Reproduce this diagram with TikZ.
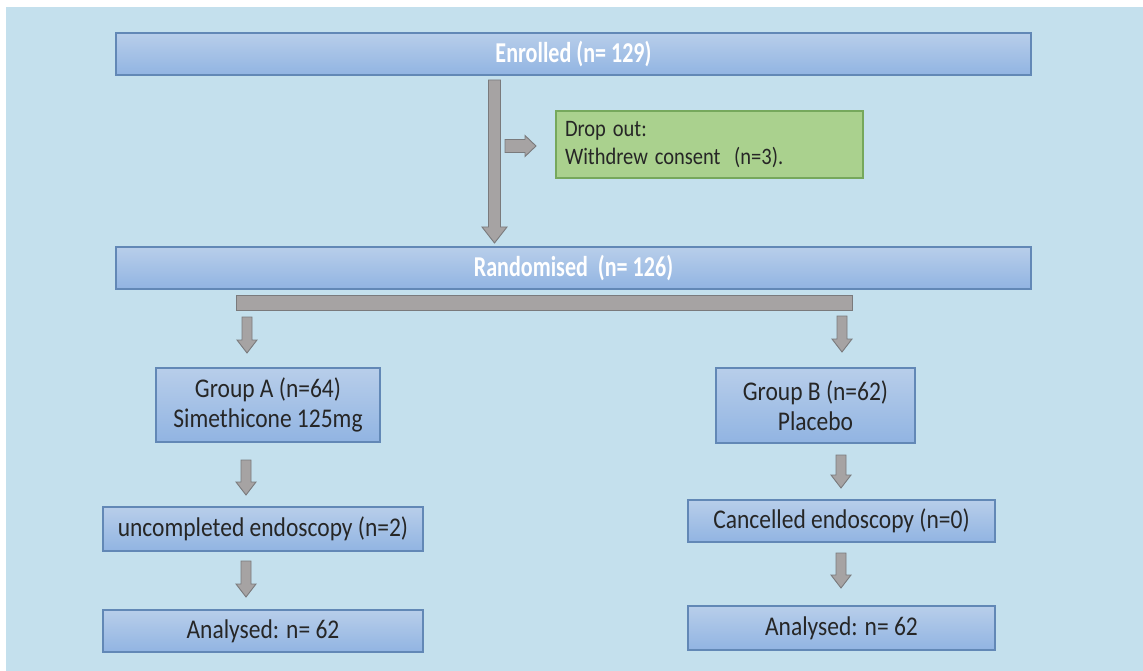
\documentclass[tikz,border=0pt]{standalone}
\usepackage{fontspec}
\setmainfont{Carlito}
\usetikzlibrary{calc}
\definecolor{bgblue}{RGB}{196,224,237}
\definecolor{boxtop}{RGB}{184,206,234}
\definecolor{boxbot}{RGB}{145,180,226}
\definecolor{boxline}{RGB}{98,136,182}
\definecolor{arrfill}{RGB}{166,163,163}
\definecolor{arrline}{RGB}{122,122,124}
\definecolor{grfill}{RGB}{170,209,142}
\definecolor{grline}{RGB}{118,168,92}
\definecolor{txt}{RGB}{38,38,38}
\newcommand\myDownArrow[6]{%
  \draw[garrow] (#1-#4,#2) -- (#1-#4,#3-#6) -- (#1-#5,#3-#6) -- (#1,#3)
    -- (#1+#5,#3-#6) -- (#1+#4,#3-#6) -- (#1+#4,#2) -- cycle;}
\newcommand\vst[1]{\scalebox{1}[1.15]{#1}}
\newcommand\hst[1]{\scalebox{0.96}[1.25]{#1}}
\begin{document}
\begin{tikzpicture}[x=1pt,y=-1pt,
  bluebox/.style={draw=boxline, line width=1.1pt, top color=boxtop, bottom color=boxbot,
    inner sep=0pt, align=center, text=txt, font=\fontsize{23.5}{30}\selectfont},
  headbox/.style={bluebox, text=white, font=\bfseries\fontsize{23}{28}\selectfont},
  greenbox/.style={draw=grline, line width=1.1pt, fill=grfill, inner sep=0pt,
    text=txt, font=\fontsize{20.5}{28}\selectfont},
  garrow/.style={fill=arrfill, draw=arrline, line width=0.9pt, line join=miter}]
\useasboundingbox (0,0) rectangle (1143,671);
\fill[bgblue] (6,7) rectangle (1143,671);

\node[headbox, minimum width=915, minimum height=42] (en) at (573.5,54) {\hst{Enrolled (n= 129)}};
\node[greenbox, minimum width=307, minimum height=67, text width=289, align=left] (drop) at (709.5,144.5)
  {\vst{Drop out:}\\\vst{Withdrew consent\ \ (n=3).}};
\node[headbox, minimum width=915, minimum height=42] (rand) at (573.5,268) {\hst{Randomised\ \ (n= 126)}};

\node[bluebox, minimum width=224, minimum height=74] (ga) at (268,405) {\vst{Group A (n=64)}\\\vst{Simethicone 125mg}};
\node[bluebox, minimum width=320, minimum height=44] (ua) at (263,529) {\vst{uncompleted endoscopy (n=2)}};
\node[bluebox, minimum width=320, minimum height=42] (aa) at (263,631) {\vst{Analysed: n= 62}};

\node[bluebox, minimum width=199, minimum height=75] (gb) at (815.5,405.5) {\vst{Group B (n=62)}\\\vst{Placebo}};
\node[bluebox, minimum width=307, minimum height=42] (cb) at (841.5,521) {\vst{Cancelled endoscopy (n=0)}};
\node[bluebox, minimum width=307, minimum height=44] (ab) at (841.5,628) {\vst{Analysed: n= 62}};

% split bar
\draw[garrow] (236,295) rectangle (852,310);

% main arrow enrolled -> randomised
\myDownArrow{494.5}{80}{243}{6}{12.5}{16}
% arrow to drop out
\draw[garrow] (505,139.5) -- (525,139.5) -- (525,135.5) -- (536,146) -- (525,156.5)
  -- (525,152.5) -- (505,152.5) -- cycle;
% branch arrows
\myDownArrow{247}{317}{353}{5}{10}{13}
\myDownArrow{842}{316}{352}{5}{10}{13}
% group A column
\myDownArrow{246}{460}{495}{5}{10}{13}
\myDownArrow{246}{561}{597}{5}{10}{13}
% group B column
\myDownArrow{841}{455}{488}{5}{10}{13}
\myDownArrow{841}{553}{588}{5}{10}{13}
\end{tikzpicture}
\end{document}
